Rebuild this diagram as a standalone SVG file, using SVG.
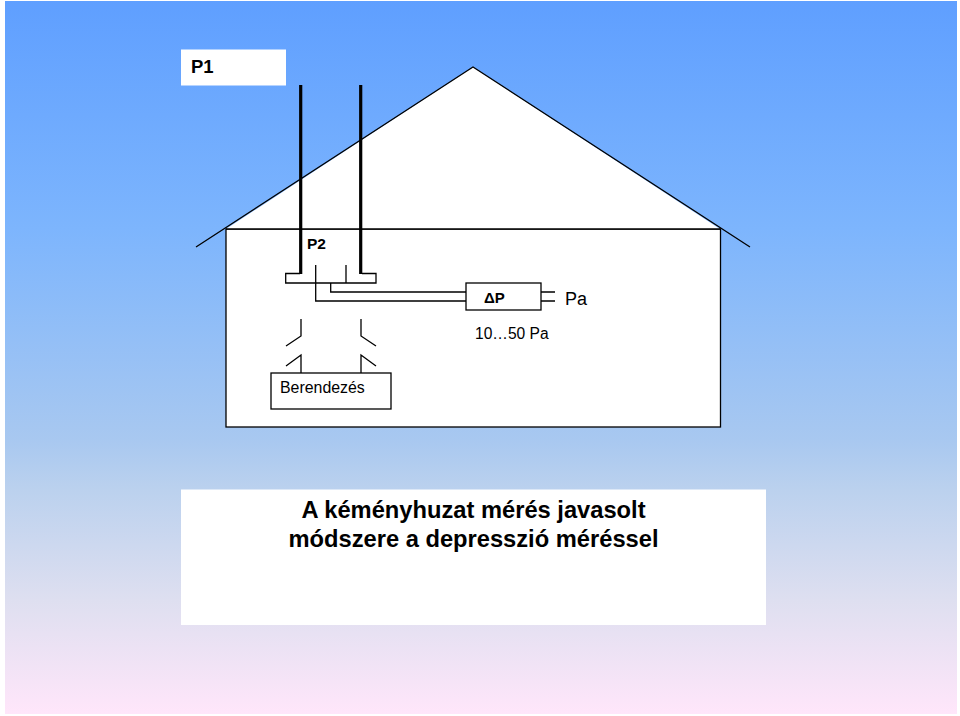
<svg xmlns="http://www.w3.org/2000/svg" width="960" height="716" viewBox="0 0 960 716">
<style>
.l{fill:none;stroke:#000;stroke-width:1.3}
.w{fill:#fff;stroke:#000;stroke-width:1.3}
.t{stroke:#000;stroke-width:3.2;fill:none}
text{font-family:"Liberation Sans",Arial,sans-serif;fill:#000}
</style>
<defs><linearGradient id="bg" x1="0" y1="0" x2="0" y2="1">
<stop offset="0" stop-color="#5f9fff"/><stop offset="0.32" stop-color="#7db5fd"/><stop offset="0.615" stop-color="#a8c8f0"/><stop offset="0.685" stop-color="#bbd1ee"/><stop offset="0.84" stop-color="#dedff0"/><stop offset="1" stop-color="#ffe6fa"/>
</linearGradient></defs>
<rect width="960" height="716" fill="#fff"/>
<rect id="background" x="5" y="1" width="952" height="713" fill="url(#bg)"/>
<g id="house"><rect x="226" y="229" width="494.500" height="198" class="w"/><polygon points="226,229 473,67 720,229" fill="#fff" stroke="none"/><path class="l" d="M226 229H720.500"/><polyline class="l" points="196,247 473,67 750,247"/></g>
<g id="p1"><rect x="181" y="49.500" width="105" height="36" fill="#fff"/><text x="191" y="73" font-size="18.500" font-weight="bold">P1</text></g>
<g id="p2"><text x="307" y="249" font-size="15.500" font-weight="bold">P2</text></g>
<g id="connectors">
<path class="t" d="M300.700 85V274M360.700 85V274"/>
<path class="l" d="M300 273.500H285.700V283H376V273.500H362"/>
<path class="l" d="M346 265V283M315.700 265V301H466M330.700 283V292H466M541 292H555M541 301H555"/>
<path class="l" d="M301 319V336L286 346M361 319V336L376 346M286 366L301 355V373M376 366L361 355V373"/>
</g>
<g id="dp"><rect class="w" x="466" y="283" width="75" height="27"/><text x="484" y="303" font-size="15" font-weight="bold">ΔP</text></g>
<g id="pa"><text x="565" y="305" font-size="18">Pa</text></g>
<g id="range"><text x="475" y="339" font-size="15.600">10…50 Pa</text></g>
<g id="berendezes"><rect class="w" x="271" y="373" width="120" height="36"/><text x="280" y="393" font-size="15.900">Berendezés</text></g>
<g id="caption"><rect x="181" y="489.500" width="585" height="135.500" fill="#fff"/>
<text x="473.500" y="518" font-size="23.700" font-weight="bold" text-anchor="middle">A kéményhuzat mérés javasolt</text>
<text x="473.500" y="547" font-size="23.700" font-weight="bold" text-anchor="middle">módszere a depresszió méréssel</text></g>
</svg>
